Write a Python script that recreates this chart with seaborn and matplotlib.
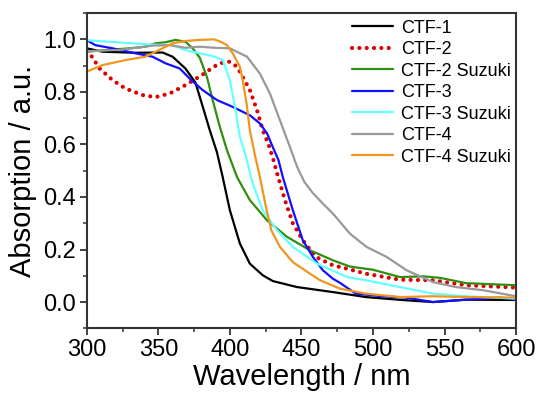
import matplotlib
matplotlib.use("Agg")
import matplotlib.pyplot as plt
from matplotlib.ticker import MultipleLocator
import seaborn as sns
import pandas as pd

# ---- data ----
ctf1_x = [300, 311, 334, 353, 360, 369, 376, 381, 386, 391, 395, 400, 407, 414, 423, 430, 447, 472, 495, 520, 542, 565, 600]
ctf1_y = [0.966, 0.953, 0.949, 0.950, 0.934, 0.889, 0.835, 0.745, 0.654, 0.57, 0.476, 0.35, 0.223, 0.146, 0.102, 0.08, 0.057, 0.038, 0.019, 0.008, 0.0, 0.009, 0.008]

ctf2_x = [300, 302, 309, 318, 327, 339, 348, 358, 369, 381, 389, 393, 400, 405, 409, 414, 419, 423, 427, 430, 433, 438.5, 444, 451, 460, 472, 482, 495, 519, 542, 565, 600]
ctf2_y = [0.955, 0.947, 0.889, 0.845, 0.813, 0.788, 0.78, 0.794, 0.826, 0.866, 0.896, 0.909, 0.915, 0.896, 0.857, 0.807, 0.73, 0.654, 0.60, 0.55, 0.49, 0.388, 0.30, 0.235, 0.172, 0.14, 0.127, 0.108, 0.085, 0.083, 0.064, 0.055]

ctf2s_x = [300, 313, 330, 341, 348, 355, 362, 369, 374, 379, 384, 388, 393, 398, 405, 414, 426, 440, 456, 472, 484, 500, 519, 535, 547, 565, 600]
ctf2s_y = [0.953, 0.959, 0.966, 0.972, 0.985, 0.989, 0.998, 0.991, 0.966, 0.93, 0.857, 0.769, 0.667, 0.578, 0.476, 0.388, 0.311, 0.248, 0.197, 0.159, 0.135, 0.123, 0.095, 0.098, 0.092, 0.072, 0.064]

ctf3_x = [300, 306, 318, 334, 346, 355, 365, 373, 381, 391, 402, 414, 421, 426, 430, 434, 437, 444, 451, 458, 465, 472, 477, 488, 507, 523, 542, 565, 588, 600]
ctf3_y = [0.997, 0.978, 0.966, 0.947, 0.934, 0.909, 0.889, 0.845, 0.807, 0.769, 0.743, 0.711, 0.68, 0.642, 0.59, 0.54, 0.476, 0.35, 0.235, 0.172, 0.121, 0.089, 0.073, 0.032, 0.022, 0.017, 0.0, 0.009, 0.017, 0.01]

ctf3s_x = [300, 323, 346, 360, 369, 379, 389, 395, 400, 403.6, 407, 411, 416, 423, 433, 444, 461, 482, 495, 519, 542, 565, 600]
ctf3s_y = [0.997, 0.988, 0.98, 0.978, 0.959, 0.947, 0.935, 0.921, 0.845, 0.743, 0.629, 0.56, 0.45, 0.35, 0.273, 0.21, 0.146, 0.095, 0.083, 0.057, 0.032, 0.022, 0.013]

ctf4_x = [300, 323, 346, 358, 369, 379, 389, 400, 412, 421, 428, 435, 442, 447, 452, 458, 465, 472, 484, 495.5, 509.5, 523.5, 542, 558, 577, 600]
ctf4_y = [0.955, 0.96, 0.976, 0.978, 0.968, 0.972, 0.968, 0.966, 0.934, 0.87, 0.794, 0.692, 0.59, 0.515, 0.458, 0.415, 0.375, 0.337, 0.26, 0.21, 0.172, 0.121, 0.076, 0.057, 0.045, 0.022]

ctf4s_x = [300, 311, 327, 341, 353, 360, 369, 379, 389, 394, 398, 402, 407, 409, 411.7, 414, 417.5, 421, 425.7, 429, 435, 444, 456, 463, 477, 495, 519, 542, 565, 600]
ctf4s_y = [0.877, 0.902, 0.921, 0.934, 0.966, 0.985, 0.994, 0.998, 1.0, 0.99, 0.978, 0.947, 0.896, 0.845, 0.756, 0.654, 0.56, 0.476, 0.35, 0.273, 0.21, 0.152, 0.108, 0.083, 0.051, 0.032, 0.019, 0.022, 0.019, 0.017]

labels = ["CTF-1", "CTF-2", "CTF-2 Suzuki", "CTF-3", "CTF-3 Suzuki", "CTF-4", "CTF-4 Suzuki"]
xs_all = [ctf1_x, ctf2_x, ctf2s_x, ctf3_x, ctf3s_x, ctf4_x, ctf4s_x]
ys_all = [ctf1_y, ctf2_y, ctf2s_y, ctf3_y, ctf3s_y, ctf4_y, ctf4s_y]
colors = ["#000000", "#dd0000", "#2f8f10", "#1010ff", "#66ffff", "#999999", "#f0961e"]

sns.set_style("white")
plt.rcParams['font.family'] = ['Liberation Sans', 'DejaVu Sans']
plt.rcParams['text.color'] = 'black'
plt.rcParams['axes.labelcolor'] = 'black'
plt.rcParams['xtick.color'] = 'black'
plt.rcParams['ytick.color'] = 'black'

fig = plt.figure(figsize=(5.37, 3.97), dpi=100)
ax = fig.add_axes([0.1615, 0.173, 0.7995, 0.794])

for name, xs, ys, col in zip(labels, xs_all, ys_all, colors):
    df = pd.DataFrame({"x": xs, "y": ys})
    if name == "CTF-2":
        sns.lineplot(data=df, x="x", y="y", ax=ax, color=col, label=name,
                     linewidth=3.0, linestyle=(0, (0.01, 1.75)), sort=False,
                     dash_capstyle="round")
    else:
        sns.lineplot(data=df, x="x", y="y", ax=ax, color=col, label=name,
                     linewidth=1.6, sort=False)

ax.set_xlim(300, 600)
ax.set_ylim(-0.1, 1.1)
ax.xaxis.set_major_locator(MultipleLocator(50))
ax.xaxis.set_minor_locator(MultipleLocator(25))
ax.yaxis.set_minor_locator(MultipleLocator(0.1))
ax.set_yticks([0.0, 0.2, 0.4, 0.6, 0.8, 1.0])
ax.set_yticklabels(["0.0", "0.2", "0.4", "0.6", "0.8", "1.0"])

ax.tick_params(axis="both", which="major", direction="out", length=5, width=1.3,
               labelsize=17, color="#333333", labelcolor="black", bottom=True, left=True, pad=3)
ax.tick_params(axis="both", which="minor", direction="out", length=3, width=1.1,
               color="#333333", bottom=True, left=True)
for sp in ax.spines.values():
    sp.set_color("#333333")
    sp.set_linewidth(1.5)

ax.set_xlabel("Wavelength / nm", fontsize=21, labelpad=1, color="black")
ax.set_ylabel("Absorption / a.u.", fontsize=21, labelpad=4, color="black")

leg = ax.legend(loc="upper right", frameon=False, fontsize=13, handlelength=2.3,
                handletextpad=0.4, labelspacing=0.25, borderaxespad=0.0,
                bbox_to_anchor=(1.004, 1.002))
for t in leg.get_texts():
    t.set_color("black")

fig.savefig("out.png", dpi=100)
